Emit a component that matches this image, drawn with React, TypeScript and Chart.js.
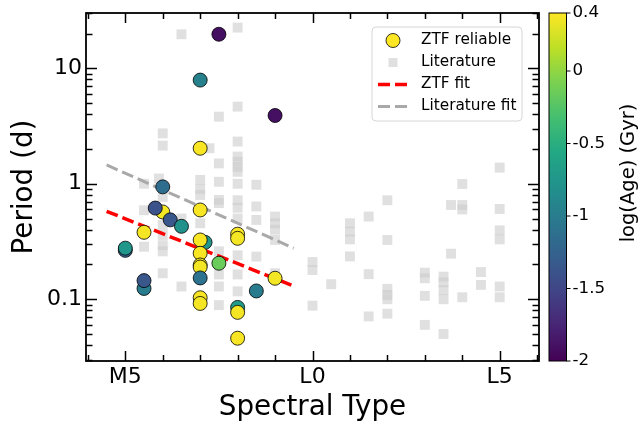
import React, { useEffect, useRef } from 'react';
import { Chart, registerables } from 'chart.js';

Chart.register(...registerables);

// ZTF reliable sample (spectral type number: M5 = 5, L0 = 10, L5 = 15)
const ztfSpT = [7.13, 8, 5,
  7, 6, 7, 5.5, 7, 7, 7, 7, 7, 7, 8, 8, 9, 8, 8,
  7.5, 7, 9, 6, 5.8, 6.2, 6.5, 5, 5.5, 5.5, 7.5, 7, 8.5];
const ztfPeriod = [0.311, 0.085, 0.265,
  2.03, 0.57, 0.593, 0.38, 0.326, 0.25, 0.198, 0.19, 0.103, 0.092, 0.366, 0.337, 0.152, 0.077, 0.046,
  19.7, 7.9, 3.9, 0.94, 0.616, 0.487, 0.428, 0.277, 0.124, 0.145, 0.205, 0.153, 0.118];
const ztfLogAge = [-0.75, -0.7, -1.25,
  0.38, 0.36, 0.38, 0.37, 0.38, 0.38, 0.37, 0.36, 0.38, 0.37, 0.38, 0.37, 0.36, 0.37, 0.38,
  -1.9, -0.95, -1.9, -1.15, -1.4, -1.35, -0.8, -0.75, -1.0, -1.35, -0.15, -1.1, -1.0];

// Literature sample
const litSpT = [
  5.5, 5.5, 5.5,
  5.9,
  6, 6, 6, 6, 6, 6, 6, 6,
  6.5, 6.5, 6.5,
  7, 7, 7, 7, 7,
  7.25,
  7.5, 7.5, 7.5, 7.5, 7.5, 7.5, 7.5, 7.5, 7.5,
  8, 8, 8, 8, 8, 8, 8, 8, 8, 8, 8, 8, 8, 8,
  8.5, 8.5, 8.5, 8.5,
  9, 9, 9, 9, 9,
  10, 10, 10,
  10.5,
  11, 11, 11, 11,
  11.5, 11.5, 11.5,
  12, 12, 12, 12, 12, 12,
  13, 13, 13, 13,
  13.5, 13.5, 13.5, 13.5, 13.5,
  13.7, 13.7,
  14, 14, 14, 14,
  14.5, 14.5,
  15, 15, 15, 15, 15, 15];
const litPeriod = [
  1.0, 0.59, 0.285,
  1.11,
  2.73, 2.14, 0.77, 0.44, 0.36, 0.294, 0.26, 0.168,
  19.7, 0.50, 0.129,
  1.08, 0.90, 0.80, 0.455, 0.235,
  2.03,
  3.81, 1.50, 1.04, 0.724, 0.68, 0.26, 0.164, 0.129, 0.089,
  22.5, 4.66, 2.32, 1.72, 1.55, 1.40, 1.27, 1.0, 0.72, 0.62, 0.50, 0.24, 0.164, 0.117,
  0.98, 0.636, 0.486, 0.234,
  0.52, 0.455, 0.40, 0.326, 0.168,
  0.21, 0.179, 0.088,
  0.135,
  0.455, 0.386, 0.33, 0.235,
  0.52, 0.165, 0.071,
  0.72, 0.326, 0.123, 0.109, 0.1, 0.075,
  0.17, 0.152, 0.107, 0.06,
  0.157, 0.14, 0.12, 0.1, 0.05,
  0.655, 0.248,
  0.995, 0.655, 0.6, 0.104,
  0.172, 0.133,
  1.38, 0.605, 0.395, 0.33, 0.129, 0.104];

// Fits
const ztfFitSpT = [4.5, 9.5];
const ztfFitPeriod = [0.578, 0.13];
const litFitSpT = [4.5, 9.5];
const litFitPeriod = [1.456, 0.277];

// Axes
const xTickValues = [5, 10, 15];
const xTickLabels = ['M5', 'L0', 'L5'];
const yTickValues = [0.1, 1, 10];
const yTickLabels = ['0.1', '1', '10'];
const cbarTickValues = [0.4, 0, -0.5, -1, -1.5, -2];
const cbarTickLabels = ['0.4', '0', '-0.5', '-1', '-1.5', '-2'];
const cbarMin = -2;
const cbarMax = 0.4;

const VIRIDIS = ['#440154', '#482475', '#414487', '#355f8d', '#2a788e', '#21918c',
  '#22a884', '#44bf70', '#7ad151', '#bddf26', '#fde725'];

function hexToRgb(h: string) {
  return [parseInt(h.slice(1, 3), 16), parseInt(h.slice(3, 5), 16), parseInt(h.slice(5, 7), 16)];
}
function viridis(t: number) {
  t = Math.max(0, Math.min(1, t));
  const s = t * (VIRIDIS.length - 1);
  const i = Math.min(VIRIDIS.length - 2, Math.floor(s));
  const f = s - i;
  const a = hexToRgb(VIRIDIS[i]);
  const b = hexToRgb(VIRIDIS[i + 1]);
  const c = a.map((v, k) => Math.round(v + (b[k] - v) * f));
  return `rgb(${c[0]},${c[1]},${c[2]})`;
}
const ageColor = (v: number) => viridis((v - cbarMin) / (cbarMax - cbarMin));

const FONT = 'DejaVu Sans';

const frameAndExtras = {
  id: 'frameAndExtras',
  afterDraw(chart: any) {
    const { ctx, chartArea: a, scales } = chart;
    const xs = scales.x;
    const ys = scales.y;
    ctx.save();
    ctx.strokeStyle = '#000';
    ctx.lineWidth = 1.5;
    const seg = (x1: number, y1: number, x2: number, y2: number) => {
      ctx.beginPath();
      ctx.moveTo(x1, y1);
      ctx.lineTo(x2, y2);
      ctx.stroke();
    };
    // x ticks (inward, top and bottom)
    for (let v = Math.ceil(xs.min); v <= xs.max; v++) {
      const px = Math.round(xs.getPixelForValue(v)) + 0.5;
      const L = xTickValues.includes(v) ? 10 : 6;
      seg(px, a.bottom, px, a.bottom - L);
      seg(px, a.top, px, a.top + L);
    }
    // y ticks (inward, left and right)
    for (let e = -2; e <= 1; e++) {
      for (let k = 1; k <= 9; k++) {
        const v = k * Math.pow(10, e);
        if (v < ys.min || v > ys.max) continue;
        const py = Math.round(ys.getPixelForValue(v)) + 0.5;
        const L = k === 1 ? 11 : 6.5;
        seg(a.left, py, a.left + L, py);
        seg(a.right, py, a.right - L, py);
      }
    }
    ctx.lineWidth = 1.8;
    ctx.strokeRect(a.left, a.top, a.right - a.left, a.bottom - a.top);

    // Colorbar
    const cbL = a.right + 10;
    const cbW = 17.5;
    const cbT = a.top;
    const cbB = a.bottom;
    const grad = ctx.createLinearGradient(0, cbB, 0, cbT);
    VIRIDIS.forEach((c, i) => grad.addColorStop(i / (VIRIDIS.length - 1), c));
    ctx.fillStyle = grad;
    ctx.fillRect(cbL, cbT, cbW, cbB - cbT);
    ctx.lineWidth = 1;
    ctx.strokeStyle = '#000';
    ctx.strokeRect(cbL, cbT, cbW, cbB - cbT);
    ctx.fillStyle = '#000';
    ctx.font = `16.7px "${FONT}"`;
    ctx.textAlign = 'left';
    ctx.textBaseline = 'middle';
    cbarTickValues.forEach((v, i) => {
      const py = cbT + ((cbarMax - v) / (cbarMax - cbarMin)) * (cbB - cbT);
      seg(cbL + cbW, py, cbL + cbW + 4, py);
      ctx.fillText(cbarTickLabels[i], cbL + cbW + 6, py);
    });
    ctx.save();
    ctx.translate(629, 173);
    ctx.rotate(-Math.PI / 2);
    ctx.textAlign = 'center';
    ctx.textBaseline = 'middle';
    ctx.font = `19.5px "${FONT}"`;
    ctx.fillText('log(Age) (Gyr)', 0, 0);
    ctx.restore();

    // Legend
    const bx = a.right - 167;
    const by = a.top + 14;
    const bw = 150;
    const bh = 94;
    ctx.beginPath();
    ctx.roundRect(bx, by, bw, bh, 4);
    ctx.fillStyle = 'rgba(255,255,255,0.8)';
    ctx.fill();
    ctx.strokeStyle = '#d6d6d6';
    ctx.lineWidth = 1;
    ctx.stroke();
    const ds = chart.data.datasets;
    const rows = [0, 1, 2, 3];
    const mx = bx + 21;
    ctx.font = `15.3px "${FONT}"`;
    rows.forEach((di, r) => {
      const d = ds[di];
      const cy = by + 13.5 + r * 22;
      if (di === 0) {
        ctx.beginPath();
        ctx.arc(mx, cy, 7, 0, Math.PI * 2);
        ctx.fillStyle = VIRIDIS[VIRIDIS.length - 1];
        ctx.fill();
        ctx.strokeStyle = '#000';
        ctx.lineWidth = 0.8;
        ctx.stroke();
      } else if (di === 1) {
        ctx.fillStyle = d.backgroundColor;
        ctx.fillRect(mx - 4.5, cy - 4.5, 9, 9);
      } else {
        ctx.strokeStyle = d.borderColor;
        ctx.lineWidth = d.borderWidth;
        ctx.setLineDash(d.borderDash);
        seg(mx - 15, cy, mx + 15, cy);
        ctx.setLineDash([]);
      }
      ctx.fillStyle = '#000';
      ctx.textAlign = 'left';
      ctx.textBaseline = 'middle';
      ctx.fillText(d.label, bx + 49, cy);
    });
    ctx.restore();
  },
};

const zeroPad = (s: any) => {
  s.paddingTop = 0;
  s.paddingBottom = 0;
  s.paddingLeft = 0;
  s.paddingRight = 0;
};

export default function App() {
  const ref = useRef<HTMLCanvasElement | null>(null);
  useEffect(() => {
    document.body.style.margin = '0';
    const canvas = ref.current;
    if (!canvas) return;
    const chart = new Chart(canvas, {
      type: 'scatter',
      data: {
        datasets: [
          {
            label: 'ZTF reliable',
            data: ztfSpT.map((x, i) => ({ x, y: ztfPeriod[i] })),
            pointRadius: 7,
            pointHoverRadius: 7,
            pointBackgroundColor: ztfLogAge.map(ageColor),
            pointBorderColor: '#000',
            pointBorderWidth: 0.8,
            order: 0,
          },
          {
            label: 'Literature',
            data: litSpT.map((x, i) => ({ x, y: litPeriod[i] })),
            pointStyle: 'rect',
            pointRadius: 7,
            pointHoverRadius: 7,
            backgroundColor: 'rgba(205,205,205,0.62)',
            pointBackgroundColor: 'rgba(205,205,205,0.62)',
            pointBorderWidth: 0,
            borderWidth: 0,
            order: 3,
          },
          {
            label: 'ZTF fit',
            data: ztfFitSpT.map((x, i) => ({ x, y: ztfFitPeriod[i] })),
            showLine: true,
            borderColor: '#ff0000',
            borderWidth: 3.5,
            borderDash: [12, 5],
            pointRadius: 0,
            order: 1,
          },
          {
            label: 'Literature fit',
            data: litFitSpT.map((x, i) => ({ x, y: litFitPeriod[i] })),
            showLine: true,
            borderColor: '#a9a9a9',
            borderWidth: 3,
            borderDash: [12, 5],
            pointRadius: 0,
            order: 2,
          },
        ],
      },
      options: {
        animation: false,
        responsive: false,
        devicePixelRatio: 1,
        layout: { padding: { top: 13, right: 103, left: 0, bottom: 0 } },
        plugins: { legend: { display: false }, tooltip: { enabled: false } },
        scales: {
          x: {
            type: 'linear',
            min: 3.95,
            max: 16.05,
            grid: { display: false, drawTicks: false },
            border: { display: false },
            afterBuildTicks: (s: any) => { s.ticks = xTickValues.map((v) => ({ value: v })); },
            afterFit: (s: any) => { s.height = 63; zeroPad(s); },
            ticks: {
              padding: 3,
              color: '#000',
              font: { family: FONT, size: 22 },
              callback: (v: any) => { const i = xTickValues.indexOf(Number(v)); return i >= 0 ? xTickLabels[i] : ''; },
              maxRotation: 0,
              autoSkip: false,
            },
            title: { display: true, text: 'Spectral Type', color: '#000', font: { family: FONT, size: 27.8 }, padding: { top: 0, bottom: 0 } },
          },
          y: {
            type: 'logarithmic',
            min: 0.0292,
            max: 30.1,
            grid: { display: false, drawTicks: false },
            border: { display: false },
            afterBuildTicks: (s: any) => { s.ticks = yTickValues.map((v) => ({ value: v })); },
            afterFit: (s: any) => { s.width = 86; zeroPad(s); },
            ticks: {
              padding: 4,
              color: '#000',
              font: { family: FONT, size: 22 },
              callback: (v: any) => { const i = yTickValues.findIndex((t) => Math.abs(t - Number(v)) < 1e-9); return i >= 0 ? yTickLabels[i] : ''; },
              autoSkip: false,
            },
            title: { display: true, text: 'Period (d)', color: '#000', font: { family: FONT, size: 27.8 }, padding: { top: 8, bottom: 0 } },
          },
        },
      },
      plugins: [frameAndExtras],
    } as any);
    return () => chart.destroy();
  }, []);
  return (
    <div style={{ width: 642, height: 424 }}>
      <canvas ref={ref} width={642} height={424} style={{ display: 'block' }} />
    </div>
  );
}
